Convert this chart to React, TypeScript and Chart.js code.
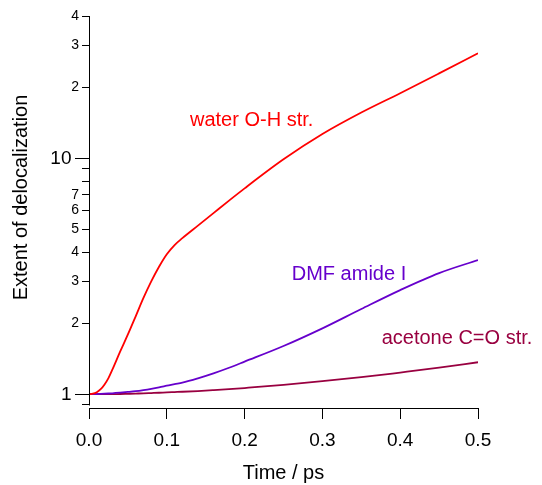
import React, { useEffect, useRef } from 'react';
import { Chart, registerables } from 'chart.js';

Chart.register(...registerables);

const FONT = '"Liberation Sans", Arial, Helvetica, sans-serif';

const times = [0, 0.005, 0.01, 0.015, 0.02, 0.025, 0.03, 0.04, 0.05, 0.06, 0.07, 0.08, 0.09, 0.1, 0.11, 0.12, 0.14, 0.16, 0.18, 0.2, 0.25, 0.3, 0.35, 0.4, 0.45, 0.5];
const waterOH = [1.0, 1.005, 1.02, 1.05, 1.1, 1.17, 1.27, 1.514, 1.791, 2.138, 2.559, 3.006, 3.467, 3.917, 4.285, 4.581, 5.176, 5.848, 6.607, 7.447, 9.886, 12.65, 15.6, 18.84, 22.86, 27.8];
const dmfAmideI = [1.0, 1.0, 1.001, 1.003, 1.005, 1.007, 1.009, 1.015, 1.022, 1.03, 1.041, 1.054, 1.069, 1.086, 1.103, 1.119, 1.167, 1.225, 1.294, 1.374, 1.6, 1.901, 2.296, 2.761, 3.258, 3.7];
const acetoneCO = [1.0, 1.0, 1.0, 1.0, 1.0, 1.0, 1.001, 1.002, 1.004, 1.006, 1.008, 1.011, 1.014, 1.018, 1.021, 1.024, 1.031, 1.04, 1.05, 1.062, 1.095, 1.135, 1.18, 1.235, 1.295, 1.366];

const seriesNames = ['water O-H str.', 'DMF amide I', 'acetone C=O str.'];
const seriesColors = ['#ff0000', '#6600cc', '#990040'];
const labelTimes = [0.1298, 0.2606, 0.3762];
const labelValues = [14.5, 3.2, 1.715];

const xTickValues = [0, 0.1, 0.2, 0.3, 0.4, 0.5];
const yTickValues = [0.9, 1, 2, 3, 4, 5, 6, 7, 8, 9, 10, 20, 30, 40];
const yTickLabels = ['', '', '2', '3', '4', '5', '6', '7', '', '', '', '2', '3', '4'];
const yMajorValues = [1, 10];
const yMajorLabels = ['1', '10'];

const xTitle = 'Time / ps';
const yTitle = 'Extent of delocalization';

const decorations = {
  id: 'decorations',
  afterDraw(chart: any) {
    const { ctx, chartArea } = chart;
    const x = chart.scales.x;
    const y = chart.scales.y;
    ctx.save();
    ctx.strokeStyle = '#000';
    ctx.lineWidth = 1;
    const ax = Math.round(chartArea.left) + 0.5;
    ctx.beginPath();
    ctx.moveTo(ax, y.getPixelForValue(40));
    ctx.lineTo(ax, y.getPixelForValue(0.9) + 0.5);
    ctx.stroke();
    ctx.fillStyle = '#000';
    ctx.font = '19px ' + FONT;
    ctx.textAlign = 'right';
    ctx.textBaseline = 'middle';
    yMajorValues.forEach((v, i) => {
      const py = Math.round(y.getPixelForValue(v) - 0.5) + 0.5;
      ctx.beginPath();
      ctx.moveTo(chartArea.left - 14, py);
      ctx.lineTo(chartArea.left, py);
      ctx.stroke();
      ctx.fillText(yMajorLabels[i], chartArea.left - 17.5, py);
    });
    // y title
    ctx.save();
    ctx.translate(21.5, 197.5);
    ctx.rotate(-Math.PI / 2);
    ctx.textAlign = 'center';
    ctx.font = '20px ' + FONT;
    ctx.fillText(yTitle, 0, 0);
    ctx.restore();
    // series labels
    ctx.font = '20px ' + FONT;
    ctx.textAlign = 'left';
    seriesNames.forEach((name, i) => {
      ctx.fillStyle = seriesColors[i];
      ctx.fillText(name, x.getPixelForValue(labelTimes[i]), y.getPixelForValue(labelValues[i]));
    });
    ctx.restore();
  },
};

export default function App() {
  const ref = useRef<HTMLCanvasElement>(null);
  useEffect(() => {
    if (!ref.current) return;
    const series = [waterOH, dmfAmideI, acetoneCO];
    const chart = new Chart(ref.current, {
      type: 'line',
      data: {
        datasets: series.map((vals, i) => ({
          label: seriesNames[i],
          data: times.map((t, j) => ({ x: t, y: vals[j] })),
          borderColor: seriesColors[i],
          backgroundColor: seriesColors[i],
          borderWidth: 1.8,
          pointRadius: 0,
          cubicInterpolationMode: 'monotone' as const,
          fill: false,
        })),
      },
      options: {
        animation: false,
        responsive: false,
        devicePixelRatio: 1,
        layout: { padding: { left: 0, top: 16, right: 64, bottom: 0 } },
        plugins: { legend: { display: false }, tooltip: { enabled: false } },
        scales: {
          x: {
            type: 'linear',
            min: 0,
            max: 0.5,
            afterBuildTicks: (s: any) => {
              s.ticks = xTickValues.map((v) => ({ value: v }));
            },
            afterFit: (s: any) => {
              s.height = 77;
            },
            ticks: {
              callback: (v: any) => Number(v).toFixed(1),
              font: { size: 19, family: FONT },
              color: '#000',
              padding: 10,
              maxRotation: 0,
              autoSkip: false,
            },
            grid: { drawOnChartArea: false, drawTicks: true, tickLength: 11, color: '#000' },
            border: { display: true, color: '#000', width: 1 },
            title: { display: true, text: xTitle, font: { size: 20, family: FONT }, color: '#000', padding: 0 },
          },
          y: {
            type: 'logarithmic',
            min: 0.874,
            max: 40,
            bounds: 'data',
            afterBuildTicks: (s: any) => {
              s.ticks = yTickValues.map((v) => ({ value: v }));
            },
            afterFit: (s: any) => {
              s.width = 89;
            },
            ticks: {
              callback: (_v: any, i: number) => yTickLabels[i],
              font: { size: 14, family: FONT },
              color: '#000',
              padding: 3,
              autoSkip: false,
            },
            grid: { drawOnChartArea: false, drawTicks: true, tickLength: 7, color: '#000' },
            border: { display: false },
          },
        },
      },
      plugins: [decorations],
    } as any);
    return () => chart.destroy();
  }, []);
  return (
    <div style={{ position: 'absolute', left: 0, top: 0, width: 542, height: 485 }}>
      <canvas ref={ref} width={542} height={485} style={{ display: 'block' }} />
    </div>
  );
}
